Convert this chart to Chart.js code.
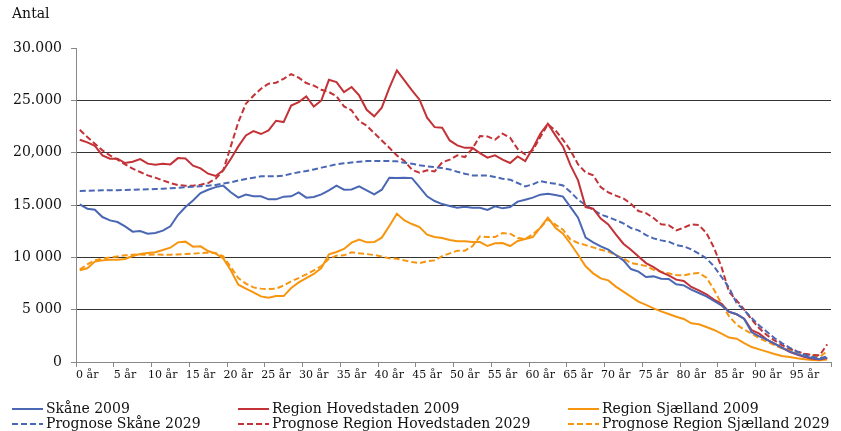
<!DOCTYPE html>
<html>
<head>
<meta charset="utf-8">
<script src="https://cdn.jsdelivr.net/npm/chart.js@4.4.0/dist/chart.umd.min.js"></script>
<style>
	body { margin: 0; background: #fff; }
	#wrap { position: relative; width: 841px; height: 431px; font-family: "DejaVu Serif", serif; color: #111; }
	#myChart { position: absolute; left: 0; top: 0; }
	#antal { position: absolute; left: 12px; top: 5px; font-size: 14px; }
	.leg { position: absolute; font-size: 14px; line-height: 16px; white-space: nowrap; }
	.leg svg { vertical-align: middle; margin-right: 3px; }
</style>
</head>
<body>
<div id="wrap">
	<canvas id="myChart" width="841" height="431"></canvas>
	<div id="antal">Antal</div>
</div>
<script>
// ages 0..99
const ages = [0,1,2,3,4,5,6,7,8,9,10,11,12,13,14,15,16,17,18,19,20,21,22,23,24,25,26,27,28,29,30,31,32,33,34,35,36,37,38,39,40,41,42,43,44,45,46,47,48,49,50,51,52,53,54,55,56,57,58,59,60,61,62,63,64,65,66,67,68,69,70,71,72,73,74,75,76,77,78,79,80,81,82,83,84,85,86,87,88,89,90,91,92,93,94,95,96,97,98,99];

const skane2009 = [15060,14650,14550,13850,13530,13370,12960,12450,12510,12260,
	12320,12550,12960,14040,14800,15440,16140,16460,16710,16850,
	16210,15700,15990,15830,15830,15540,15540,15800,15830,16210,
	15700,15760,16020,16400,16850,16460,16490,16780,16400,16020,
	16460,17610,17570,17610,17570,16710,15830,15380,15090,14900,
	14740,14840,14740,14740,14520,14870,14680,14800,15320,15510,
	15700,15990,16080,15950,15800,14800,13790,11880,11430,11050,
	10730,10220,9710,8880,8630,8120,8180,7960,7930,7420,
	7320,6910,6590,6270,5830,5410,4810,4560,4110,2840,
	2450,2140,1760,1380,1020,770,540,380,260,420];

const hovedstaden2009 = [21240,20980,20660,19740,19420,19420,19010,19140,19390,18950,
	18850,18950,18880,19480,19450,18750,18500,17990,17770,18310,
	19400,20600,21650,22060,21780,22120,23050,22920,24510,24830,
	25370,24410,24990,26960,26740,25790,26270,25470,24100,23470,
	24300,26200,27860,26900,25950,25060,23340,22440,22380,21170,
	20690,20460,20460,19960,19520,19740,19330,19010,19640,19200,
	20410,21810,22770,21650,20600,18790,17350,14800,14650,13700,
	13150,12200,11300,10730,10090,9450,9070,8590,8270,7870,
	7740,7170,6850,6470,5960,5570,4780,4560,4140,3030,
	2710,2140,1760,1380,960,700,480,320,230,380];

const sjaelland2009 = [8760,8950,9590,9710,9780,9780,9840,10120,10310,10410,
	10480,10700,10920,11430,11500,11020,11050,10600,10350,9900,
	8760,7390,7010,6660,6270,6150,6300,6300,7070,7610,
	8020,8410,8980,10290,10510,10800,11400,11690,11430,11460,
	11880,12990,14170,13530,13180,12890,12170,11940,11840,11650,
	11530,11530,11460,11460,11080,11340,11370,11080,11560,11750,
	11940,12830,13790,12830,12260,11300,10250,9140,8470,7990,
	7800,7200,6720,6250,5770,5450,5130,4840,4580,4330,
	4110,3700,3600,3340,3060,2710,2330,2230,1810,1430,
	1210,990,770,570,480,350,260,190,160,230];

const skane2029 = [16330,16360,16380,16400,16410,16420,16440,16460,16480,16500,
	16530,16560,16600,16650,16700,16750,16800,16850,16920,17050,
	17160,17350,17480,17610,17740,17740,17740,17800,17990,18120,
	18240,18400,18570,18720,18880,18980,19070,19140,19200,19200,
	19200,19200,19170,19040,18950,18790,18690,18620,18530,18400,
	18180,17990,17830,17830,17830,17670,17510,17420,17100,16780,
	16970,17290,17130,17040,16870,16240,15510,14990,14550,14080,
	13850,13560,13250,12800,12580,12130,11810,11620,11500,11170,
	11050,10760,10350,9900,9140,8120,7100,5630,4940,4200,
	3480,2900,2290,1810,1380,1020,700,510,350,540];

const hovedstaden2029 = [22190,21490,20850,20220,19740,19330,18880,18470,18150,17830,
	17610,17350,17100,16900,16850,16850,16940,17100,17510,18310,
	20600,22920,24680,25440,26110,26590,26680,27060,27510,27160,
	26650,26400,26010,25790,25400,24420,24040,23020,22580,21870,
	21170,20470,19740,19200,18370,18080,18310,18210,19070,19330,
	19740,19580,20380,21580,21550,21240,21810,21430,20340,19830,
	20220,21490,22700,22130,21240,20220,18880,18120,17830,16710,
	16210,15890,15630,15120,14420,14230,13750,13150,13080,12580,
	12830,13150,13080,12320,10920,9070,6690,5890,5000,4050,
	3220,2580,2070,1620,1280,990,800,670,640,1690];

const sjaelland2029 = [8820,9330,9710,9870,10000,10090,10190,10250,10280,10250,
	10280,10250,10250,10280,10310,10350,10410,10450,10410,10090,
	9070,8020,7490,7130,7010,6970,7010,7300,7710,8020,
	8380,8760,9170,9870,10160,10190,10480,10380,10310,10220,
	10090,9900,9870,9710,9550,9450,9620,9710,10120,10380,
	10640,10640,11050,12000,11940,11940,12320,12260,11840,11750,
	12200,12830,13630,13120,12640,11690,11370,11170,10950,10730,
	10540,10220,9900,9450,9330,9170,8820,8630,8470,8310,
	8280,8440,8500,8060,6910,5570,4360,3570,3090,2710,
	2260,1950,1620,1310,1120,960,770,640,480,1050];

const seriesNames = ['Skåne 2009', 'Region Hovedstaden 2009', 'Region Sjælland 2009',
	'Prognose Skåne 2029', 'Prognose Region Hovedstaden 2029', 'Prognose Region Sjælland 2029'];
const seriesData = [skane2009, hovedstaden2009, sjaelland2009, skane2029, hovedstaden2029, sjaelland2029];

const yTickValues = [0, 5000, 10000, 15000, 20000, 25000, 30000];
const yTickText = ['0', '5 000', '10 000', '15.000', '20,000', '25.000', '30.000'];

const blue = '#4A67B4';
const red = '#C33236';
const orange = '#F7950F';
const colors = [blue, red, orange, blue, red, orange];
const dashes = [[], [], [], [6, 3], [6, 3], [6, 3]];

const datasets = seriesData.map((d, i) => ({
	label: seriesNames[i],
	data: d,
	borderColor: colors[i],
	backgroundColor: colors[i],
	borderDash: dashes[i],
	borderWidth: 2,
	pointRadius: 0,
	tension: 0,
	fill: false
}));

const ctx = document.getElementById('myChart').getContext('2d');
const myChart = new Chart(ctx, {
	type: 'line',
	data: { labels: ages, datasets: datasets },
	options: {
		responsive: false,
		animation: false,
		layout: { padding: { top: 48, right: 10, left: 0, bottom: 39 } },
		plugins: {
			legend: { display: false },
			tooltip: { enabled: false }
		},
		scales: {
			x: {
				offset: true,
				grid: {
					offset: true,
					drawOnChartArea: false,
					drawTicks: true,
					tickLength: 5,
					color: c => (c.index === undefined || c.index % 5 === 0) ? '#888' : 'transparent'
				},
				border: { color: '#888', width: 1 },
				ticks: {
					autoSkip: false,
					maxRotation: 0,
					labelOffset: 7.5,
					padding: 2,
					color: '#111',
					font: { family: 'DejaVu Serif', size: 11 },
					callback: (v, i) => i % 5 === 0 ? ages[i] + ' år' : ''
				},
				afterFit: s => { s.height = 30 }
			},
			y: {
				min: 0,
				max: 30000,
				ticks: {
					stepSize: 5000,
					padding: 9,
					color: '#111',
					font: { family: 'DejaVu Serif', size: 14 },
					callback: v => yTickText[yTickValues.indexOf(v)]
				},
				grid: {
					color: c => (c.tick && (c.tick.value === 0 || c.tick.value === 30000)) ? 'transparent' : '#333',
					tickColor: '#888',
					tickLength: 5
				},
				border: { color: '#888', width: 1 },
				afterFit: s => { s.width = 76 }
			}
		}
	}
});

// legend, 3 columns x 2 rows like the original
const legX = [12, 238, 568];
const legY = [400, 415];
const wrap = document.getElementById('wrap');
seriesNames.forEach((name, i) => {
	const el = document.createElement('div');
	el.className = 'leg';
	el.style.left = legX[i % 3] + 'px';
	el.style.top = legY[Math.floor(i / 3)] + 'px';
	const dash = dashes[i].length ? 'stroke-dasharray="' + dashes[i].join(',') + '"' : '';
	el.innerHTML = '<svg width="31" height="4"><line x1="0" y1="2" x2="31" y2="2" stroke="' + colors[i] + '" stroke-width="2" ' + dash + '/></svg>' + name;
	wrap.appendChild(el);
});
</script>
</body>
</html>
